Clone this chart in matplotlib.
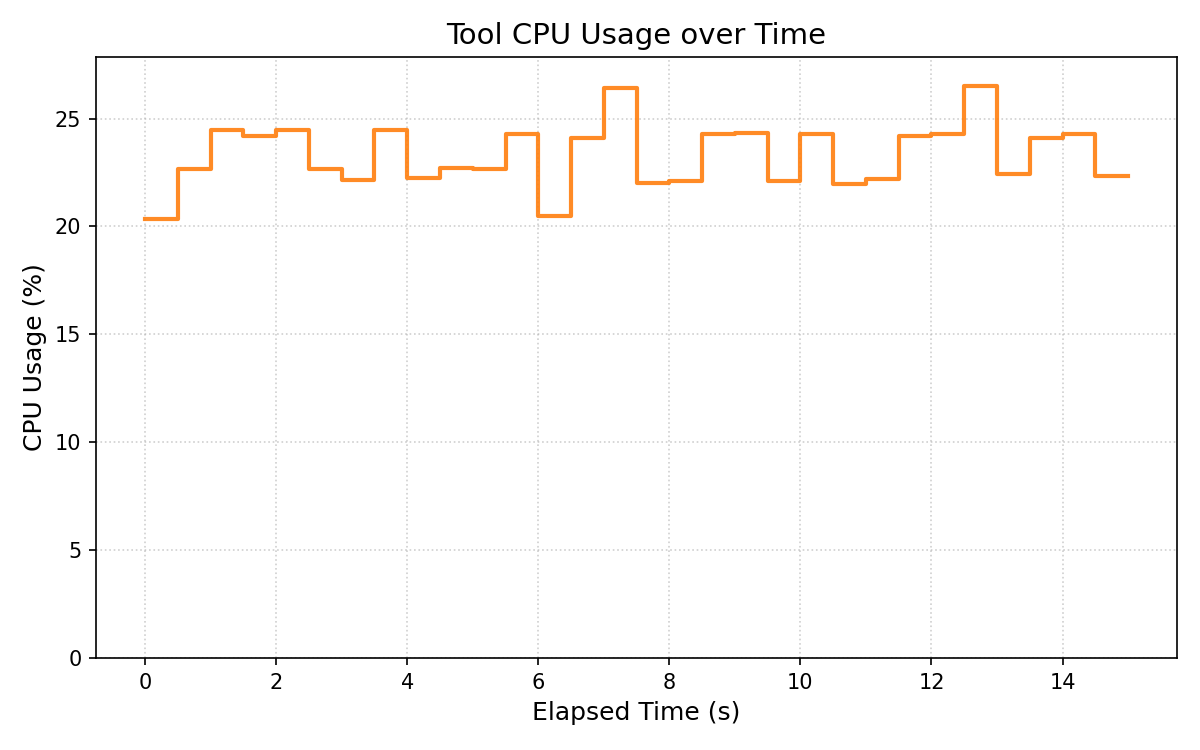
import matplotlib.pyplot as plt
import numpy as np

elapsed = np.arange(0, 15.01, 0.5)
cpu = [20.33, 22.67, 24.48, 24.18, 24.48, 22.68, 22.15, 24.48, 22.23, 22.69,
       22.65, 24.27, 20.48, 24.08, 26.40, 22.00, 22.10, 24.27, 24.35, 22.09,
       24.30, 21.99, 22.18, 24.18, 24.31, 26.53, 22.42, 24.08, 24.31, 22.36,
       22.36]

fig, ax = plt.subplots(figsize=(8, 5), dpi=150)
ax.step(elapsed, cpu, where='post', color='tab:orange', alpha=0.9, lw=2)

ax.set_title('Tool CPU Usage over Time', fontsize=14)
ax.set_xlabel('Elapsed Time (s)', fontsize=12)
ax.set_ylabel('CPU Usage (%)', fontsize=12)
ax.set_ylim(0, max(cpu) * 1.05)
ax.grid(True, linestyle=':', alpha=0.6)

plt.subplots_adjust(left=0.08, right=0.981, top=0.924, bottom=0.1227)
plt.savefig('out.png', dpi=150)
